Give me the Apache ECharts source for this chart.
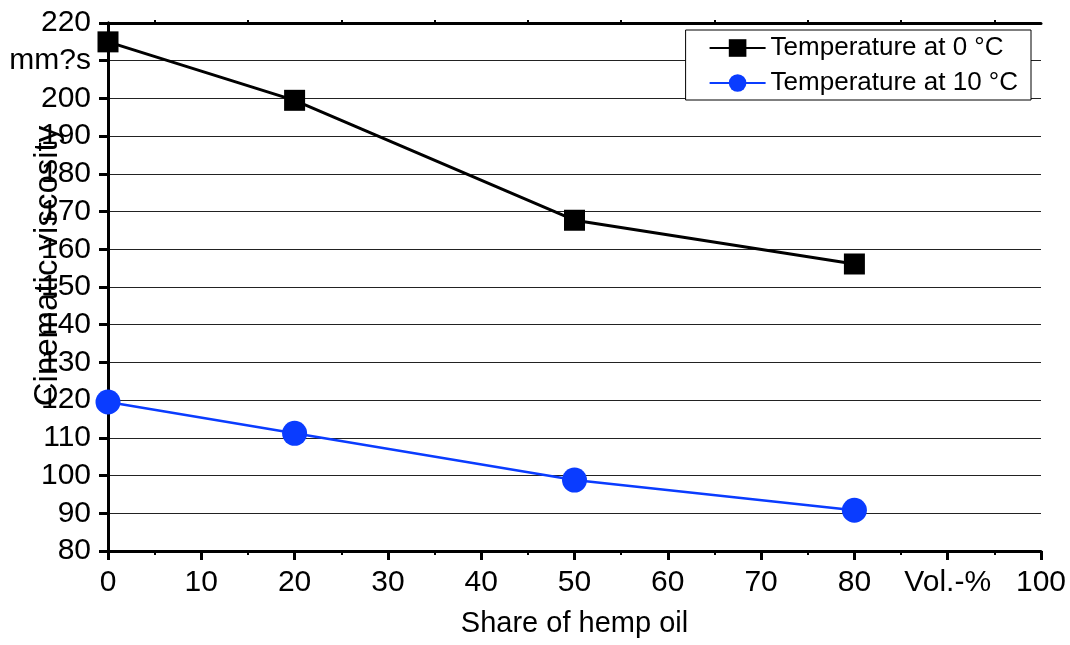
<!DOCTYPE html>
<html>
<head>
<meta charset="utf-8">
<script src="https://cdn.jsdelivr.net/npm/echarts@6/dist/echarts.min.js"></script>
<style>
  html, body { margin: 0; padding: 0; background: #fff; }
  #chart { width: 1070px; height: 645px; }
</style>
</head>
<body>
<div id="chart"></div>
<script>
// Share of hemp oil in the blend (Vol.-%)
const hempShare = [0, 20, 50, 80];
// Kinematic viscosity (mm²/s) at two temperatures
const viscosityAt0C = [215, 199.5, 167.7, 156.1];
const viscosityAt10C = [119.5, 111.2, 98.8, 90.8];

const seriesNames = ['Temperature at 0 °C', 'Temperature at 10 °C'];
const xTickLabels = { 90: 'Vol.-%' };
const yTickLabels = { 210: 'mm?s' };

const FONT = 'Liberation Sans, Arial, sans-serif';
const AXIS_LINE = { show: true, lineStyle: { color: '#000', width: 3 } };

const chart = echarts.init(document.getElementById('chart'), null, { renderer: 'canvas' });

chart.setOption({
  animation: false,
  backgroundColor: '#fff',
  grid: { left: 108, right: 29, top: 23, bottom: 94, containLabel: false, outerBoundsMode: 'none' },
  legend: {
    orient: 'vertical',
    right: 39,
    top: 30,
    padding: [5, 13, 4, 23],
    itemGap: 9,
    itemWidth: 56,
    itemHeight: 22,
    backgroundColor: '#fff',
    borderColor: '#000',
    borderWidth: 1,
    borderRadius: 0,
    textStyle: { fontFamily: FONT, fontSize: 26, color: '#000' },
    data: seriesNames
  },
  // rotated y-axis title, placed on the left of the tick labels
  graphic: [
    {
      type: 'text',
      x: 48, y: 266,
      rotation: Math.PI / 2,
      style: {
        text: 'Cinematic viscosity',
        font: '33px ' + FONT,
        fill: '#000',
        align: 'center',
        verticalAlign: 'middle'
      },
      z: 10
    }
  ],
  xAxis: [
    {
      type: 'value', position: 'bottom',
      min: 0, max: 100, interval: 10,
      name: 'Share of hemp oil',
      nameLocation: 'middle', nameGap: 58,
      nameTextStyle: { fontFamily: FONT, fontSize: 29, color: '#000' },
      axisLine: AXIS_LINE,
      axisTick: { show: true, inside: false, length: 9, lineStyle: { color: '#000', width: 3 } },
      minorTick: { show: true, splitNumber: 2, length: 4, lineStyle: { color: '#000', width: 2 } },
      axisLabel: {
        fontFamily: FONT, fontSize: 30, color: '#000', margin: 17,
        formatter: v => (xTickLabels[v] !== undefined ? xTickLabels[v] : String(v))
      },
      splitLine: { show: false }
    },
    {
      type: 'value', position: 'top',
      min: 0, max: 100, interval: 10,
      axisLine: AXIS_LINE,
      axisTick: { show: false },
      minorTick: { show: true, splitNumber: 2, length: 3, lineStyle: { color: '#000', width: 2 } },
      axisLabel: { show: false },
      splitLine: { show: false }
    }
  ],
  yAxis: [
    {
      type: 'value', position: 'left',
      min: 80, max: 220, interval: 10,
      axisLine: AXIS_LINE,
      axisTick: { show: true, inside: false, length: 9, lineStyle: { color: '#000', width: 3 } },
      axisLabel: {
        fontFamily: FONT, fontSize: 30, color: '#000', margin: 17,
        formatter: v => (yTickLabels[v] !== undefined ? yTickLabels[v] : String(v))
      },
      splitLine: { show: true, lineStyle: { color: '#222', width: 1.2 } }
    },
    {
      type: 'value', position: 'right',
      min: 80, max: 220, interval: 10,
      axisLine: AXIS_LINE,
      axisTick: { show: true, inside: true, length: 4, lineStyle: { color: '#000', width: 2 } },
      axisLabel: { show: false },
      splitLine: { show: false }
    }
  ],
  series: [
    {
      name: seriesNames[0],
      type: 'line',
      xAxisIndex: 0, yAxisIndex: 0,
      data: hempShare.map((x, i) => [x, viscosityAt0C[i]]),
      symbol: 'rect', symbolSize: 21,
      itemStyle: { color: '#000' },
      lineStyle: { color: '#000', width: 3 },
      z: 3
    },
    {
      name: seriesNames[1],
      type: 'line',
      xAxisIndex: 0, yAxisIndex: 0,
      data: hempShare.map((x, i) => [x, viscosityAt10C[i]]),
      symbol: 'circle', symbolSize: 25,
      itemStyle: { color: '#0a3cff' },
      lineStyle: { color: '#0a3cff', width: 2.5 },
      z: 3
    }
  ]
});
</script>
</body>
</html>
